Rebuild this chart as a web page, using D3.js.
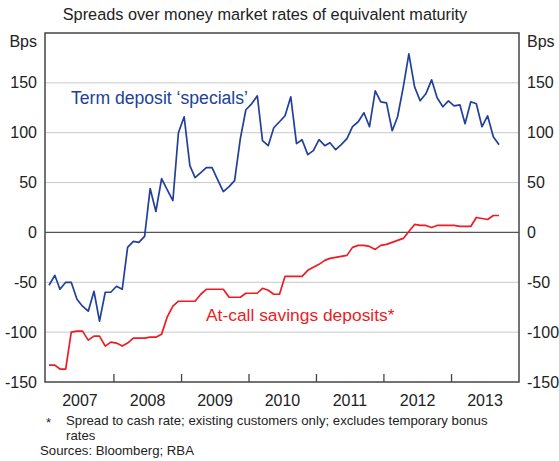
<!DOCTYPE html>
<html lang="en">
<head>
<meta charset="UTF-8">
<script src="https://d3js.org/d3.v7.min.js"></script>
<title>Deposit spreads</title>
<style>
  body { margin: 0; background: #fff; }
  svg { font-family: Arial, "Liberation Sans", sans-serif; display: block; }
  .grid line { stroke: #c8c8c8; stroke-width: 1; }
  .frame { fill: none; stroke: #444; stroke-width: 1.5; }
  .tick-label { font-size: 16px; fill: #222; }
  .foot { font-size: 13.2px; fill: #222; }
</style>
</head>
<body>
<div id="chart"></div>
<script>
// monthly observations, Jan 2007 - Sep 2013
var startMonth = new Date(2007, 0, 15);

var termSpecials = [
  -53, -43, -57, -50, -50, -67, -74, -79, -59, -89, -60, -60,
  -54, -57, -15, -9, -10, -4, 44, 21, 54, 43, 32, 100,
  116, 67, 55, 60, 65, 65, 53, 41, 46, 52, 94, 123,
  129, 137, 92, 87, 105, 111, 117, 136, 89, 93, 78, 82,
  93, 87, 90, 83, 88, 94, 106, 111, 120, 106, 142, 131,
  130, 102, 116, 146, 179, 146, 132, 139, 153, 135, 126, 132,
  127, 128, 109, 131, 129, 106, 117, 96, 88
];

var atCallSavings = [
  -133, -133, -137, -137, -100, -99, -99, -108, -104, -104, -114, -110,
  -111, -114, -111, -106, -106, -106, -105, -105, -102, -85, -74, -69,
  -69, -69, -69, -62, -57, -57, -57, -57, -65, -65, -65, -61,
  -61, -61, -56, -58, -62, -62, -44, -44, -44, -44, -38, -35,
  -32, -28, -26, -25, -24, -23, -15, -13, -13, -14, -17, -13,
  -12, -10, -8, -6, 1, 8, 7, 7, 5, 7, 7, 7,
  7, 6, 6, 6, 15, 14, 13, 17, 17
];

var yearTicks = [2007, 2008, 2009, 2010, 2011, 2012, 2013];
var yTicks = [-150, -100, -50, 0, 50, 100, 150];

var width = 559, height = 461;
var margin = {top: 33, right: 519, bottom: 382, left: 45};

var svg = d3.select("#chart").append("svg")
    .attr("width", width)
    .attr("height", height);

var x = d3.scaleTime()
    .domain([new Date(2006, 11, 24), new Date(2014, 0, 1)])
    .range([margin.left, margin.right]);

var y = d3.scaleLinear()
    .domain([-150, 200])
    .range([margin.bottom, margin.top]);

var dates = termSpecials.map(function(d, i) { return d3.timeMonth.offset(startMonth, i); });

// subtitle
svg.append("text")
    .attr("x", 265)
    .attr("y", 20)
    .attr("text-anchor", "middle")
    .attr("font-size", "16.3px")
    .attr("fill", "#222")
    .text("Spreads over money market rates of equivalent maturity");

// gridlines
svg.append("g")
    .attr("class", "grid")
  .selectAll("line")
    .data(yTicks.filter(function(d) { return d !== 0 && d !== -150; }))
  .enter().append("line")
    .attr("x1", margin.left)
    .attr("x2", margin.right)
    .attr("y1", function(d) { return y(d); })
    .attr("y2", function(d) { return y(d); });

// zero line
svg.append("line")
    .attr("x1", margin.left).attr("x2", margin.right)
    .attr("y1", y(0)).attr("y2", y(0))
    .attr("stroke", "#555")
    .attr("stroke-width", 1.3);

// year ticks (inside, up from the bottom)
svg.append("g")
  .selectAll("line")
    .data(yearTicks.slice(1))
  .enter().append("line")
    .attr("x1", function(d) { return x(new Date(d, 0, 1)); })
    .attr("x2", function(d) { return x(new Date(d, 0, 1)); })
    .attr("y1", margin.bottom)
    .attr("y2", margin.bottom - 8)
    .attr("stroke", "#444")
    .attr("stroke-width", 1.3);

// year labels, centred on mid year
svg.append("g")
  .selectAll("text")
    .data(yearTicks)
  .enter().append("text")
    .attr("class", "tick-label")
    .attr("x", function(d) { return x(new Date(d, 6, 1)); })
    .attr("y", 406)
    .attr("text-anchor", "middle")
    .text(function(d) { return d; });

// y labels both sides
[["end", margin.left - 8], ["start", margin.right + 8]].forEach(function(s) {
  svg.append("g")
    .selectAll("text")
      .data(yTicks)
    .enter().append("text")
      .attr("class", "tick-label")
      .attr("x", s[1])
      .attr("y", function(d) { return y(d); })
      .attr("dy", "0.35em")
      .attr("text-anchor", s[0])
      .text(function(d) { return d; });

  svg.append("text")
      .attr("class", "tick-label")
      .attr("x", s[1])
      .attr("y", y(192))
      .attr("dy", "0.35em")
      .attr("text-anchor", s[0])
      .text("Bps");
});

var line = d3.line()
    .x(function(d, i) { return x(dates[i]); })
    .y(function(d) { return y(d); });

svg.append("path")
    .datum(atCallSavings)
    .attr("fill", "none")
    .attr("stroke", "#ec1c24")
    .attr("stroke-width", 1.7)
    .attr("stroke-linejoin", "round")
    .attr("d", line);

svg.append("path")
    .datum(termSpecials)
    .attr("fill", "none")
    .attr("stroke", "#21409a")
    .attr("stroke-width", 1.7)
    .attr("stroke-linejoin", "round")
    .attr("d", line);

// series labels
svg.append("text")
    .attr("x", 71)
    .attr("y", 104)
    .attr("font-size", "17.6px")
    .attr("fill", "#21409a")
    .text("Term deposit \u2018specials\u2019");

svg.append("text")
    .attr("x", 206)
    .attr("y", 321)
    .attr("font-size", "17.4px")
    .attr("fill", "#ec1c24")
    .text("At-call savings deposits*");

// frame
svg.append("rect")
    .attr("class", "frame")
    .attr("x", margin.left)
    .attr("y", margin.top)
    .attr("width", margin.right - margin.left)
    .attr("height", margin.bottom - margin.top);

// footnotes
svg.append("text").attr("class", "foot").attr("x", 46).attr("y", 427).text("*");
svg.append("text").attr("class", "foot").attr("x", 66).attr("y", 425)
    .text("Spread to cash rate; existing customers only; excludes temporary bonus");
svg.append("text").attr("class", "foot").attr("x", 66).attr("y", 440).text("rates");
svg.append("text").attr("class", "foot").attr("x", 40).attr("y", 455).text("Sources: Bloomberg; RBA");
</script>
</body>
</html>
